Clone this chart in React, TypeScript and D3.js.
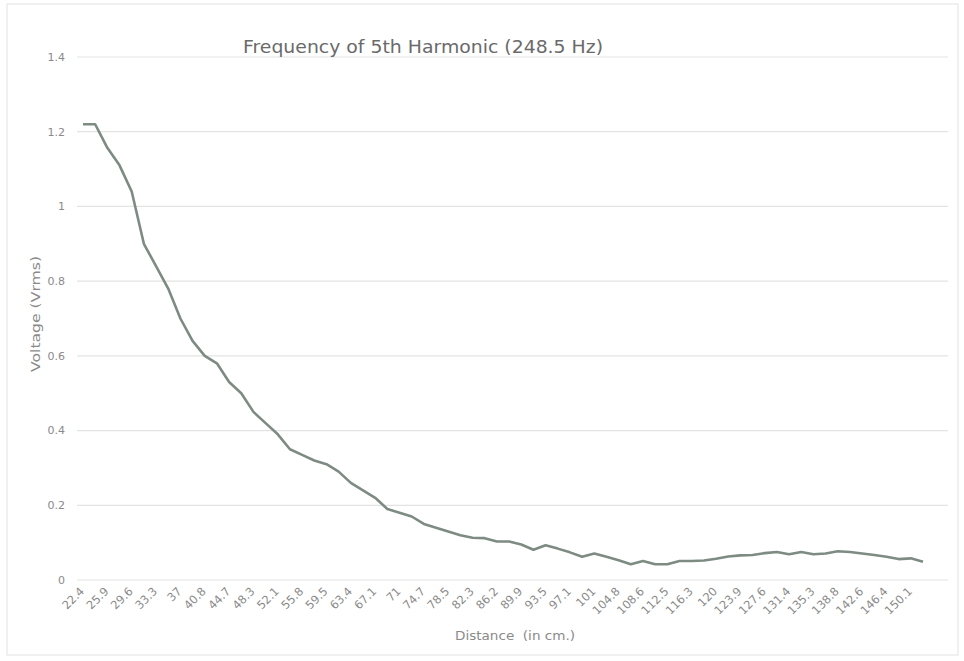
import React from "react";
import * as d3 from "d3";

const categories: string[] = [
  "22.4","24.1","25.9","27.8","29.6","31.4","33.3","35.2","37","38.9",
  "40.8","42.7","44.7","46.5","48.3","50.2","52.1","54","55.8","57.7",
  "59.5","61.4","63.4","65.3","67.1","69.1","71","72.8","74.7","76.6",
  "78.5","80.4","82.3","84.2","86.2","88","89.9","91.7","93.5","95.3",
  "97.1","99.1","101","102.9","104.8","106.7","108.6","110.5","112.5","114.4",
  "116.3","118.2","120","122","123.9","125.8","127.6","129.5","131.4","133.3",
  "135.3","137","138.8","140.7","142.6","144.5","146.4","148.3","150.1","152"
];

const voltage: number[] = [
  1.22,1.22,1.157,1.11,1.04,0.9,0.84,0.78,0.7,0.64,
  0.6,0.58,0.53,0.5,0.45,0.42,0.39,0.35,0.335,0.32,
  0.31,0.29,0.26,0.24,0.22,0.19,0.18,0.17,0.15,0.14,
  0.13,0.12,0.113,0.112,0.103,0.103,0.095,0.081,0.093,0.084,
  0.074,0.062,0.071,0.062,0.053,0.042,0.051,0.042,0.042,0.051,
  0.051,0.052,0.057,0.063,0.066,0.067,0.072,0.075,0.069,0.075,
  0.069,0.071,0.077,0.075,0.071,0.067,0.062,0.056,0.058,0.049
];

const yTicks: number[] = [0, 0.2, 0.4, 0.6, 0.8, 1, 1.2, 1.4];

const title = "Frequency of 5th Harmonic (248.5 Hz)";
const xTitle = "Distance  (in cm.)";
const yTitle = "Voltage (Vrms)";

export default function App() {
  const W = 964, H = 661;
  const x = d3.scalePoint<string>().domain(categories).range([83, 923]);
  const y = d3.scaleLinear().domain([0, 1.4]).range([580, 57]);
  const line = d3
    .line<number>()
    .x((_, i) => x(categories[i]) as number)
    .y((d) => y(d));
  const font = "'DejaVu Sans', sans-serif";
  const shown = categories.filter((_, i) => i % 2 === 0);
  return (
    <svg width={W} height={H} style={{ position: "absolute", left: 0, top: 0, background: "#fff" }} fontFamily={font}>
      <rect x={0} y={0} width={W} height={H} fill="#fff" />
      <rect x={7} y={4} width={951} height={651} fill="none" stroke="#e2e2e2" strokeWidth={1} />
      {yTicks.map((t) => (
        <g key={t}>
          <line x1={77} x2={948} y1={y(t)} y2={y(t)} stroke="#e3e3e3" strokeWidth={1.2} />
          <text x={65} y={y(t)} dy="0.35em" textAnchor="end" fontSize={11} fill="#8a8a8a">
            {String(t)}
          </text>
        </g>
      ))}
      {shown.map((c) => (
        <text
          key={c}
          transform={`translate(${(x(c) as number) + 2},${592}) rotate(-45)`}
          textAnchor="end"
          fontSize={11.5}
          fill="#8a8a8a"
        >
          {c}
        </text>
      ))}
      <path d={line(voltage) || ""} fill="none" stroke="#7d8b82" strokeWidth={2.6} strokeLinejoin="round" />
      <text x={243} y={53} fontSize={17.5} fill="#6a6a6a" textLength={360} lengthAdjust="spacingAndGlyphs">
        {title}
      </text>
      <text x={455} y={640} fontSize={12.5} fill="#8a8a8a" xmlSpace="preserve" textLength={120} lengthAdjust="spacingAndGlyphs">
        {xTitle}
      </text>
      <text transform="translate(40,372) rotate(-90)" fontSize={12.5} fill="#8a8a8a" textLength={116} lengthAdjust="spacingAndGlyphs">
        {yTitle}
      </text>
    </svg>
  );
}
